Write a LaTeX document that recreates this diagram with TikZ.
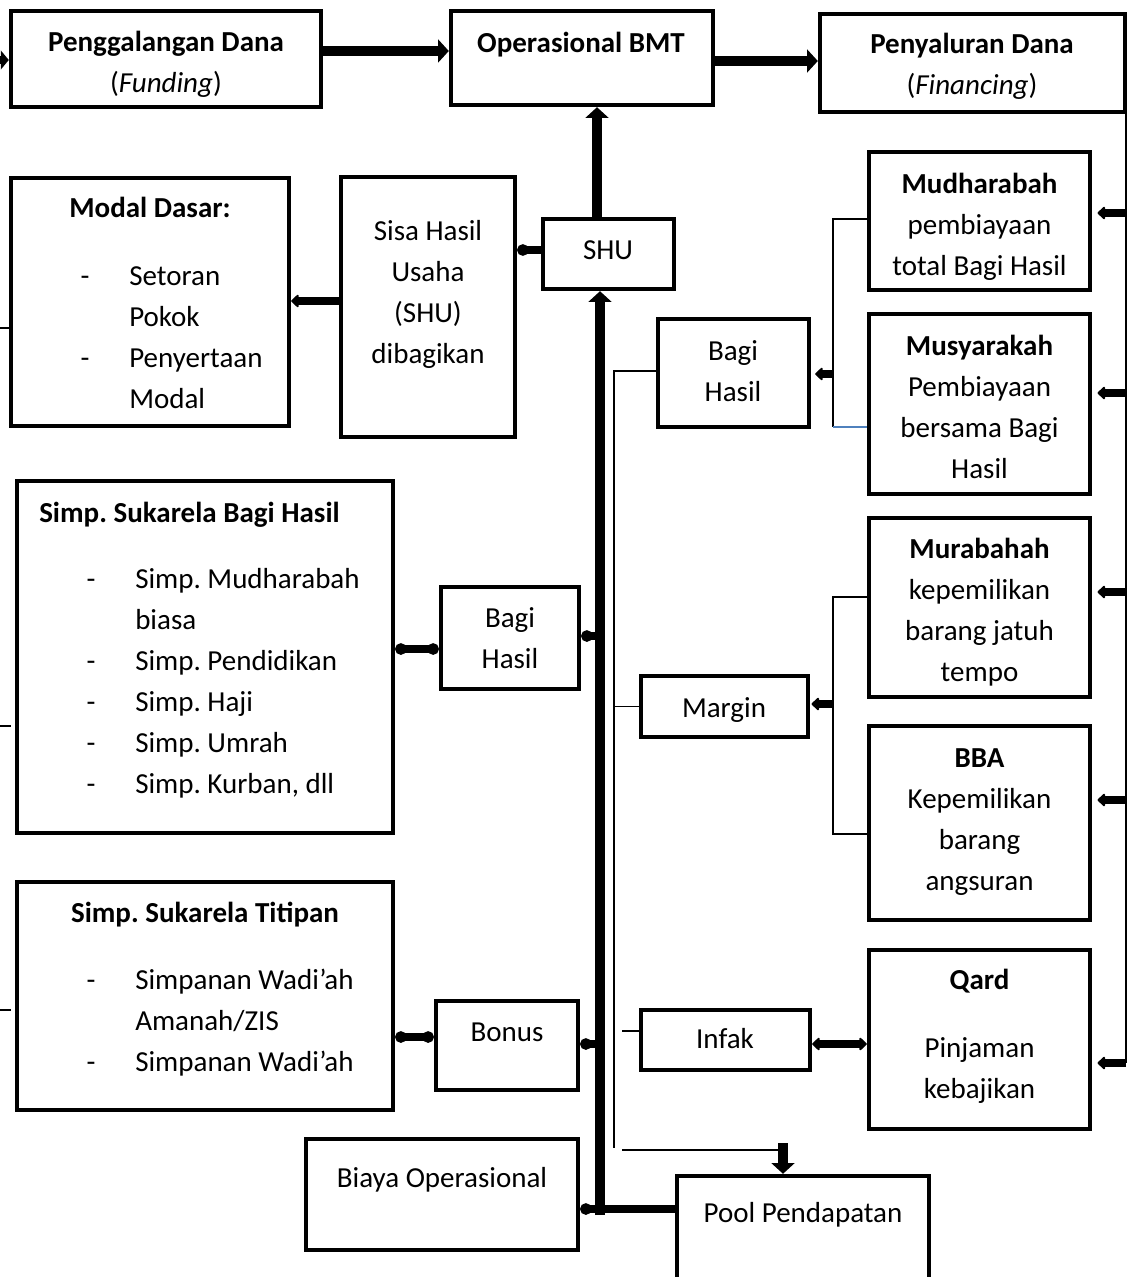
\documentclass[tikz,border=0pt]{standalone}
\usepackage{fontspec}
\setmainfont{Carlito}
\usetikzlibrary{arrows.meta}
\frenchspacing
\newcommand\myfs{\fontsize{21.75pt}{30.75pt}\selectfont}
\definecolor{lineblue}{HTML}{4F81BD}
\tikzset{
  box/.style={draw, line width=3.3pt, inner sep=0pt},
  txt/.style={anchor=north, inner sep=0pt, align=center, font=\myfs},
  txtl/.style={anchor=north west, inner sep=0pt, align=left, font=\myfs},
  big/.style={line width=7.5pt, -{Triangle[length=8pt,width=17pt]}},
  conn/.style={line width=6.5pt},
  dot/.style={-{Circle[length=8.5pt]}},
  dotdot/.style={{Circle[length=8.5pt]}-{Circle[length=8.5pt]}},
  ptr/.style={-{Triangle[round,length=6pt,width=11pt]}},
  ptrptr/.style={{Triangle[round,length=6pt,width=11pt]}-{Triangle[round,length=6pt,width=11pt]}},
  thinl/.style={line width=1.2pt}
}
\newcommand\bx[5]{\node[box, minimum width={(#4-#2)*0.75pt}, minimum height={(#5-#3)*0.75pt}] (#1) at ({(#2+#4)/2},{(#3+#5)/2}) {};}
\newcommand\tn[4]{\node[txt] (#1) at (#2,{#3-28.7}) {\strut #4};}
\newcommand\tnl[4]{\node[txtl] (#1) at (#2,{#3-28.7}) {\strut #4};}
\begin{document}
\begin{tikzpicture}[x=0.75pt,y=-0.75pt]
\useasboundingbox (0,0) rectangle (1129,1277);
\fill[white] (0,0) rectangle (1129,1277);
\clip (0,0) rectangle (1129,1277);
% boxes
\bx{fund}{11}{11}{321}{107}
\bx{ops}{451}{11}{713}{105}
\bx{fin}{820}{14}{1125}{112}
\bx{modal}{11}{178}{289}{426}
\bx{sisa}{341}{177}{515}{437}
\bx{shu}{543}{219}{674}{289}
\bx{bh1}{658}{319}{809}{427}
\bx{mud}{869}{152}{1090}{290}
\bx{mus}{869}{314}{1090}{494}
\bx{sbh}{17}{481}{393}{833}
\bx{bh2}{441}{587}{579}{689}
\bx{mur}{869}{518}{1090}{697}
\bx{margin}{641}{676}{808}{737}
\bx{bba}{869}{726}{1090}{920}
\bx{stit}{17}{882}{393}{1110}
\bx{bonus}{436}{1001}{578}{1090}
\bx{infak}{641}{1010}{810}{1070}
\bx{qard}{869}{950}{1090}{1129}
\bx{biaya}{306}{1139}{578}{1250}
\bx{pool}{677}{1176}{929}{1295}
% texts
\tn{t-fund}{166}{51}{\textbf{Penggalangan Dana}\\(\textit{Funding})}
\tn{t-ops}{581}{52}{\textbf{Operasional BMT}}
\tn{t-fin}{972}{53}{\textbf{Penyaluran Dana}\\(\textit{Financing})}
\tn{t-modal}{150}{217}{\textbf{Modal Dasar:}}
\tnl{t-modal-i}{129}{285}{Setoran\\Pokok\\Penyertaan\\Modal}
\tn{t-modal-d}{85}{285}{-\\\strut\\-}
\tn{t-sisa}{428}{240}{Sisa Hasil\\Usaha\\(SHU)\\dibagikan}
\tn{t-shu}{608}{259}{SHU}
\tn{t-bh1}{733}{360}{Bagi\\Hasil}
\tn{t-mud}{979.5}{193}{\textbf{Mudharabah}\\pembiayaan\\total Bagi Hasil}
\tn{t-mus}{979.5}{355}{\textbf{Musyarakah}\\Pembiayaan\\bersama Bagi\\Hasil}
\tnl{t-sbh}{39}{522}{\textbf{Simp. Sukarela Bagi Hasil}}
\tnl{t-sbh-i}{135}{588}{Simp. Mudharabah\\biasa\\Simp. Pendidikan\\Simp. Haji\\Simp. Umrah\\Simp. Kurban, dll}
\tn{t-sbh-d}{91}{588}{-\\\strut\\-\\-\\-\\-}
\tn{t-bh2}{510}{627}{Bagi\\Hasil}
\tn{t-mur}{979.5}{558}{\textbf{Murabahah}\\kepemilikan\\barang jatuh\\tempo}
\tn{t-margin}{724}{717}{Margin}
\tn{t-bba}{979.5}{767}{\textbf{BBA}\\Kepemilikan\\barang\\angsuran}
\tn{t-stit}{205}{922}{\textbf{Simp. Sukarela Titipan}}
\tnl{t-stit-i}{135}{989}{Simpanan Wadi’ah\\Amanah/ZIS\\Simpanan Wadi’ah}
\tn{t-stit-d}{91}{989}{-\\\strut\\-}
\tn{t-bonus}{507}{1041}{Bonus}
\tn{t-infak}{725}{1048}{Infak}
\tn{t-qard}{979.5}{989}{\textbf{Qard}}
\tn{t-qard-i}{979.5}{1057}{Pinjaman\\kebajikan}
\tn{t-biaya}{442}{1187}{Biaya Operasional}
\tn{t-pool}{803}{1222}{Pool Pendapatan}
% coordinates
\coordinate (l0) at (0,60);
\coordinate (a1) at (0,51);
\coordinate (a2) at (0,61);
\coordinate (a3) at (597,0);
\coordinate (cb) at (600,1215);
\coordinate (pl) at (0,1209);
\coordinate (s1) at (0,250);
\coordinate (s2) at (0,301);
\coordinate (s3) at (0,649);
\coordinate (s4) at (600,636);
\coordinate (s5) at (0,1037);
\coordinate (s6) at (600,1044);
\coordinate (s7) at (0,1044);
\coordinate (j1) at (833,374);
\coordinate (j2) at (833,704);
\coordinate (tl) at (614,371);
\coordinate (tb) at (614,1148);
\coordinate (is) at (622,1031);
\coordinate (pb) at (622,1150);
\coordinate (pc) at (783,1150);
\coordinate (pa) at (783,1143);
\coordinate (b1t) at (833,219);
\coordinate (b1b) at (833,427);
\coordinate (b2t) at (833,597);
\coordinate (b2b) at (833,834);
\coordinate (rb) at (1126,1063);
\coordinate (l1) at (0,328);
\coordinate (l2) at (0,726);
\coordinate (l3) at (0,1010);
% thick connectors
\draw[conn, -{Triangle[length=6pt,width=14pt]}] (l0) -- (l0 -| fund.west);
\draw[big] (fund.east |- a1) -- (ops.west |- a1);
\draw[big] (ops.east |- a2) -- (fin.west |- a2);
\draw[big] (shu.north -| a3) -- (ops.south -| a3);
\draw[big] (cb) -- (cb |- shu.south);
\draw[conn, dot] (pool.west |- pl) -- (biaya.east |- pl);
\draw[conn, dot] (shu.west |- s1) -- (sisa.east |- s1);
\draw[conn, ptr] (sisa.west |- s2) -- (modal.east |- s2);
\draw[conn, dotdot] (sbh.east |- s3) -- (bh2.west |- s3);
\draw[conn, dot] (s4) -- (s4 -| bh2.east);
\draw[conn, dotdot] (stit.east |- s5) -- (bonus.west |- s5);
\draw[conn, dot] (s6) -- (s6 -| bonus.east);
\draw[conn, ptrptr] (infak.east |- s7) -- (qard.west |- s7);
\draw[conn, ptr, shorten >=3pt] (j1) -- (j1 -| bh1.east);
\draw[conn, ptr, shorten >=1pt] (j2) -- (j2 -| margin.east);
\foreach \n/\yy in {mud/213, mus/393, mur/592, bba/800, qard/1063} {
  \coordinate (r-\n) at (1126,\yy);
  \draw[conn, ptr, shorten >=4pt] (r-\n) -- (r-\n -| \n.east);
}
\draw[big] (pa) -- (pa |- pool.north);
% thin connectors
\draw[thinl] (bh1.west |- tl) -- (tl) -- (tb);
\draw[thinl] (tl |- margin.west) -- (margin.west);
\draw[thinl] (is) -- (is -| infak.west);
\draw[thinl] (pb) -- (pc);
\draw[thinl] (b1t -| mud.west) -- (b1t) -- (b1b);
\draw[thinl, lineblue] (b1b) -- (b1b -| mus.west);
\draw[thinl] (b2t -| mur.west) -- (b2t) -- (b2b) -- (b2b -| bba.west);
\draw[thinl] (rb |- fin.south) -- (rb);
\draw[thinl] (l1) -- (l1 -| modal.west);
\draw[thinl, shorten >=3pt] (l2) -- (l2 -| sbh.west);
\draw[thinl, shorten >=3pt] (l3) -- (l3 -| stit.west);
\end{tikzpicture}
\end{document}
